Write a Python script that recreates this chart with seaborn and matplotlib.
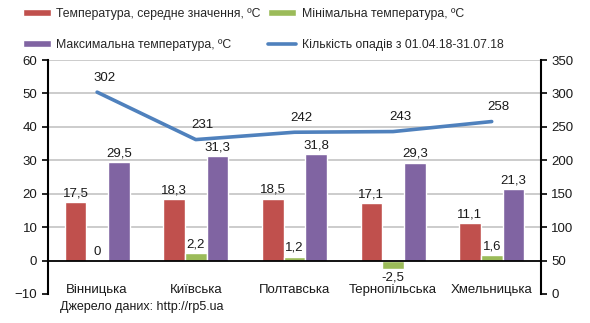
import numpy as np
import pandas as pd
import matplotlib
matplotlib.use("Agg")
import matplotlib.pyplot as plt
import seaborn as sns
from matplotlib.patches import Patch
from matplotlib.lines import Line2D

regions = ["Вінницька", "Київська", "Полтавська", "Тернопільська", "Хмельницька"]
t_mean = [17.5, 18.3, 18.5, 17.1, 11.1]
t_min = [0.0, 2.2, 1.2, -2.5, 1.6]
t_max = [29.5, 31.3, 31.8, 29.3, 21.3]
precip = [302, 231, 242, 243, 258]

lbl_mean = "Температура, середне значення, ºC"
lbl_min = "Мінімальна температура, ºC"
lbl_max = "Максимальна температура, ºC"
lbl_prec = "Кількість опадів з 01.04.18-31.07.18"

c_red = "#C0504D"
c_green = "#9BBB59"
c_purple = "#8064A2"
c_blue = "#4F81BD"

sns.set_theme(style="white")
plt.rcParams["font.family"] = ["Liberation Sans", "DejaVu Sans"]
FS = 9.5

df = pd.DataFrame({
    "region": regions * 3,
    "value": t_mean + t_min + t_max,
    "measure": [lbl_mean] * 5 + [lbl_min] * 5 + [lbl_max] * 5,
})

fig = plt.figure(figsize=(5.9, 3.23), dpi=100)
ax = fig.add_axes([0.081, 0.090, 0.836, 0.724])

sns.barplot(data=df, x="region", y="value", hue="measure",
            palette=[c_red, c_green, c_purple], width=0.66, gap=0,
            saturation=1, ax=ax, legend=False, errorbar=None)

ax.set_ylim(-10, 60)
ax.set_xlim(-0.5, 4.5)
ax.set_yticks(range(-10, 61, 10))
for y in range(10, 61, 10):
    ax.axhline(y, color="#BFBFBF", lw=1.1, zorder=0)
ax.set_axisbelow(True)

for cont in ax.containers:
    vals = cont.datavalues
    labs = [("%g" % v).replace(".", ",") for v in vals]
    ax.bar_label(cont, labels=labs, padding=2, fontsize=FS, color="#1a1a1a")

ax.spines["top"].set_visible(False)
ax.spines["right"].set_visible(False)
ax.spines["left"].set_color("black")
ax.spines["left"].set_linewidth(1.5)
ax.spines["bottom"].set_position(("data", 0))
ax.spines["bottom"].set_color("black")
ax.spines["bottom"].set_linewidth(1.3)
ax.tick_params(axis="x", length=0, pad=17, labelsize=FS, colors="#1a1a1a")
ax.tick_params(axis="y", length=4, width=1.2, direction="out", left=True,
               labelsize=FS, colors="#1a1a1a", color="black")
ax.set_xlabel("")
ax.set_ylabel("")

ax2 = ax.twinx()
sns.lineplot(x=np.arange(len(regions)), y=precip, ax=ax2, color=c_blue,
             lw=2.6, legend=False)
ax2.set_ylim(0, 350)
ax2.set_yticks(range(0, 351, 50))
for i, v in enumerate(precip):
    ax2.annotate(str(v), (i, v), xytext=(5, 6), textcoords="offset points",
                 ha="center", va="bottom", fontsize=FS, color="#1a1a1a")
for s in ["top", "left", "bottom"]:
    ax2.spines[s].set_visible(False)
ax2.spines["right"].set_color("black")
ax2.spines["right"].set_linewidth(1.5)
ax2.tick_params(axis="y", length=4, width=1.2, direction="out", right=True,
                labelsize=FS, colors="#1a1a1a", color="black")
ax2.set_ylabel("")
ax2.grid(False)

handles = [Patch(facecolor=c_red, label=lbl_mean),
           Patch(facecolor=c_purple, label=lbl_max),
           Patch(facecolor=c_green, label=lbl_min),
           Line2D([0], [0], color=c_blue, lw=2.6, label=lbl_prec)]
fig.legend(handles=handles, ncol=2, loc="upper left",
           bbox_to_anchor=(0.02, 1.01), frameon=False, fontsize=8.8,
           handlelength=2.3, handleheight=0.5, handletextpad=0.45,
           columnspacing=0.6, labelspacing=1.55)

fig.text(0.102, 0.048, "Джерело даних: http://rp5.ua", fontsize=9,
         color="#1a1a1a", va="center", ha="left")

fig.savefig("out.png", dpi=100)
